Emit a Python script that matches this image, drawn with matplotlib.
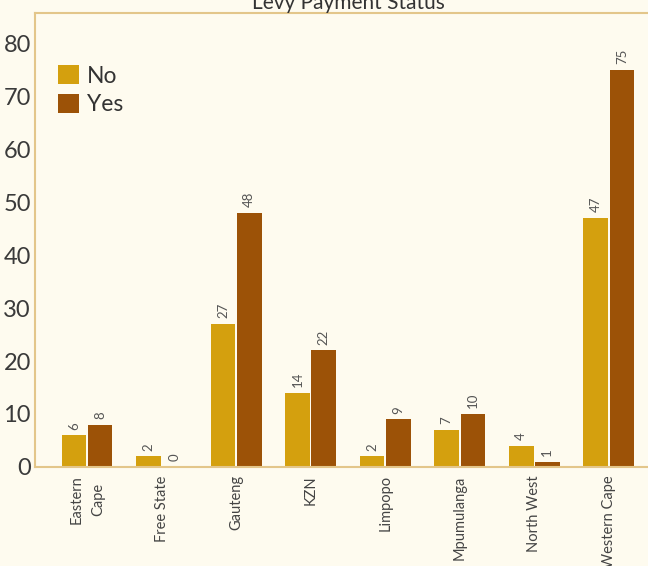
import matplotlib.pyplot as plt
import numpy as np

plt.rcParams['font.family'] = ['Lato', 'DejaVu Sans']

provinces = ['Eastern\nCape', 'Free State', 'Gauteng', 'KZN', 'Limpopo',
             'Mpumulanga', 'North West', 'Western Cape']
no_vals = [6, 2, 27, 14, 2, 7, 4, 47]
yes_vals = [8, 0, 48, 22, 9, 10, 1, 75]

bg = '#FEFBEF'
c_no = '#D4A00E'
c_yes = '#9C5207'
spine = '#E3C68A'

fig = plt.figure(figsize=(6.48, 5.66), dpi=100, facecolor=bg)
ax = fig.add_axes([0.054, 0.175, 0.966, 0.802], facecolor=bg)

x = np.arange(len(provinces))
w = 0.33
b1 = ax.bar(x - w / 2 - 0.01, no_vals, w, color=c_no, label='No')
b2 = ax.bar(x + w / 2 + 0.01, yes_vals, w, color=c_yes, label='Yes')

for bars in (b1, b2):
    for b in bars:
        ax.annotate(str(int(b.get_height())),
                    (b.get_x() + b.get_width() / 2, b.get_height()),
                    xytext=(0, 4), textcoords='offset points',
                    rotation=90, ha='center', va='bottom',
                    fontsize=9.5, color='#555555')

ax.set_xlim(-0.7, 7.7)
ax.set_ylim(0, 85.7)
ax.set_yticks(range(0, 81, 10))
ax.tick_params(axis='y', length=0, labelsize=17, labelcolor='#3a3a3a', pad=3)
ax.tick_params(axis='x', length=0, labelsize=10.5, labelcolor='#444444', pad=6)
ax.set_xticks(x)
ax.set_xticklabels(provinces, rotation=90, va='top', ha='center',
                   linespacing=1.7)

for s in ['top', 'left', 'bottom']:
    ax.spines[s].set_color(spine)
    ax.spines[s].set_linewidth(1.5)
ax.spines['right'].set_visible(False)

ax.set_title('Levy Payment Status', fontsize=15, color='#333333', pad=3)

leg = ax.legend(loc='upper left', bbox_to_anchor=(0.022, 0.905), frameon=False,
                fontsize=16.5, handlelength=0.9, handleheight=0.9,
                handletextpad=0.35, labelspacing=0.3, borderaxespad=0)
for t in leg.get_texts():
    t.set_color('#333333')

fig.savefig('out.png', dpi=100, facecolor=bg)
